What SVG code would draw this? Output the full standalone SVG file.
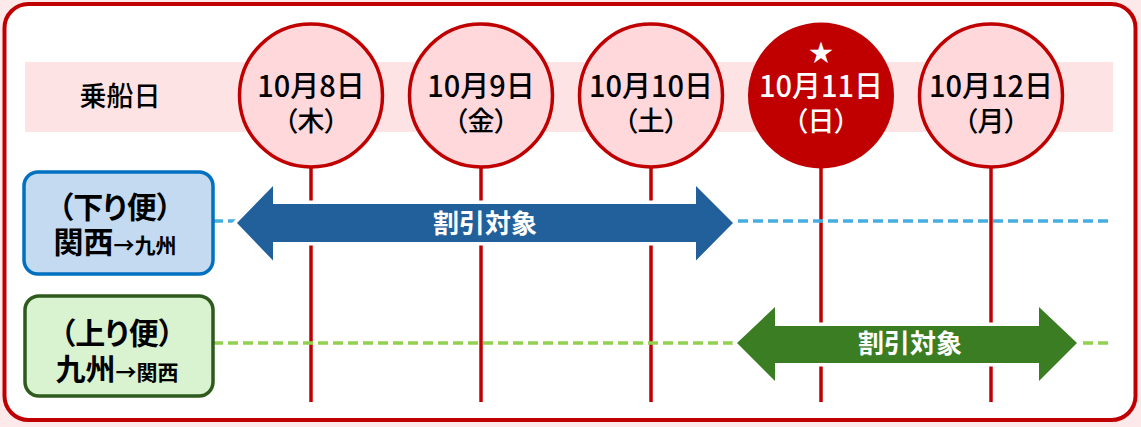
<svg xmlns="http://www.w3.org/2000/svg" width="1141" height="427" viewBox="0 0 1141 427">
<style>
.jp{font-family:"Noto Sans CJK JP","Noto Sans",sans-serif;}
.date{font-size:29px;font-weight:500;fill:#000;text-anchor:middle;}
.day{font-size:27px;font-weight:500;fill:#000;text-anchor:middle;font-feature-settings:"palt";}
.w{fill:#fff;}
.vline{stroke:#C00000;stroke-width:3.5;}
.circ{fill:#FFD8DB;stroke:#C00000;stroke-width:3.5;}
.lbl{font-size:26px;font-weight:bold;fill:#fff;text-anchor:middle;}
.box1{font-size:30px;font-weight:bold;fill:#000;text-anchor:middle;font-feature-settings:"palt";}
.small{font-size:21px;}
</style>
<defs>
<polygon id="arrB" points="237,223 273,186 273,204 696,204 696,186 733,223 696,260.5 696,242 273,242 273,260.5"/>
<polygon id="arrG" points="737,343 775,307 775,326 1039,326 1039,307 1077,343 1039,381 1039,363 775,363 775,381"/>
</defs>
<rect x="0" y="0" width="1141" height="427" fill="#FDE9EA"/>
<rect x="4.5" y="4" width="1131" height="416" rx="24" fill="#fff" stroke="#C00000" stroke-width="4"/>
<rect x="25" y="62" width="1088" height="70" fill="#FEE3E5"/>
<g id="connectors">
<line class="vline" x1="311" y1="95" x2="311" y2="402"/>
<line class="vline" x1="481" y1="95" x2="481" y2="402"/>
<line class="vline" x1="651" y1="95" x2="651" y2="402"/>
<line class="vline" x1="821" y1="95" x2="821" y2="402"/>
<line class="vline" x1="991" y1="95" x2="991" y2="402"/>
<line x1="213" y1="221" x2="1109" y2="221" stroke="#45ADDF" stroke-width="3.5" stroke-dasharray="10 5"/>
<line x1="213" y1="343" x2="1109" y2="343" stroke="#92D050" stroke-width="3.5" stroke-dasharray="10 5"/>
</g>
<g id="header">
<text class="jp" x="120" y="106" font-size="27" font-weight="500" text-anchor="middle" fill="#000">乗船日</text>
</g>
<g id="d8">
<circle class="circ" cx="311" cy="95.5" r="71.5"/>
<text class="jp date" x="311" y="97">10月8日</text>
<text class="jp day" x="311" y="131">（木）</text>
</g>
<g id="d9">
<circle class="circ" cx="481" cy="95.5" r="71.5"/>
<text class="jp date" x="481" y="97">10月9日</text>
<text class="jp day" x="481" y="131">（金）</text>
</g>
<g id="d10">
<circle class="circ" cx="651" cy="95.5" r="71.5"/>
<text class="jp date" x="651" y="97">10月10日</text>
<text class="jp day" x="651" y="131">（土）</text>
</g>
<g id="d11">
<circle cx="821" cy="95.5" r="73" fill="#C00000"/>
<text class="jp" x="821" y="61" font-size="24" fill="#fff" text-anchor="middle">★</text>
<text class="jp date w" x="821" y="97">10月11日</text>
<text class="jp day w" x="821" y="131">（日）</text>
</g>
<g id="d12">
<circle class="circ" cx="991" cy="95.5" r="71.5"/>
<text class="jp date" x="991" y="97">10月12日</text>
<text class="jp day" x="991" y="131">（月）</text>
</g>
<g id="down">
<rect x="24" y="172" width="189" height="102" rx="14" fill="#C3DAF0" stroke="#0070C0" stroke-width="3.5"/>
<text class="jp box1" x="115" y="218">（下り便）</text>
<text class="jp box1" x="115" y="253">関西<tspan class="small">→九州</tspan></text>
</g>
<g id="up">
<rect x="25" y="296" width="188" height="100" rx="14" fill="#D9F2D0" stroke="#2F5A1E" stroke-width="3.5"/>
<text class="jp box1" x="117" y="344">（上り便）</text>
<text class="jp box1" x="117" y="380">九州<tspan class="small">→関西</tspan></text>
</g>
<g id="arrow-down">
<use href="#arrB" fill="#fff" stroke="#fff" stroke-width="7"/>
<use href="#arrB" fill="#22609B"/>
<text class="jp lbl" x="485" y="233">割引対象</text>
</g>
<g id="arrow-up">
<use href="#arrG" fill="#fff" stroke="#fff" stroke-width="7"/>
<use href="#arrG" fill="#3B7D23"/>
<text class="jp lbl" x="910" y="353">割引対象</text>
</g>
</svg>
